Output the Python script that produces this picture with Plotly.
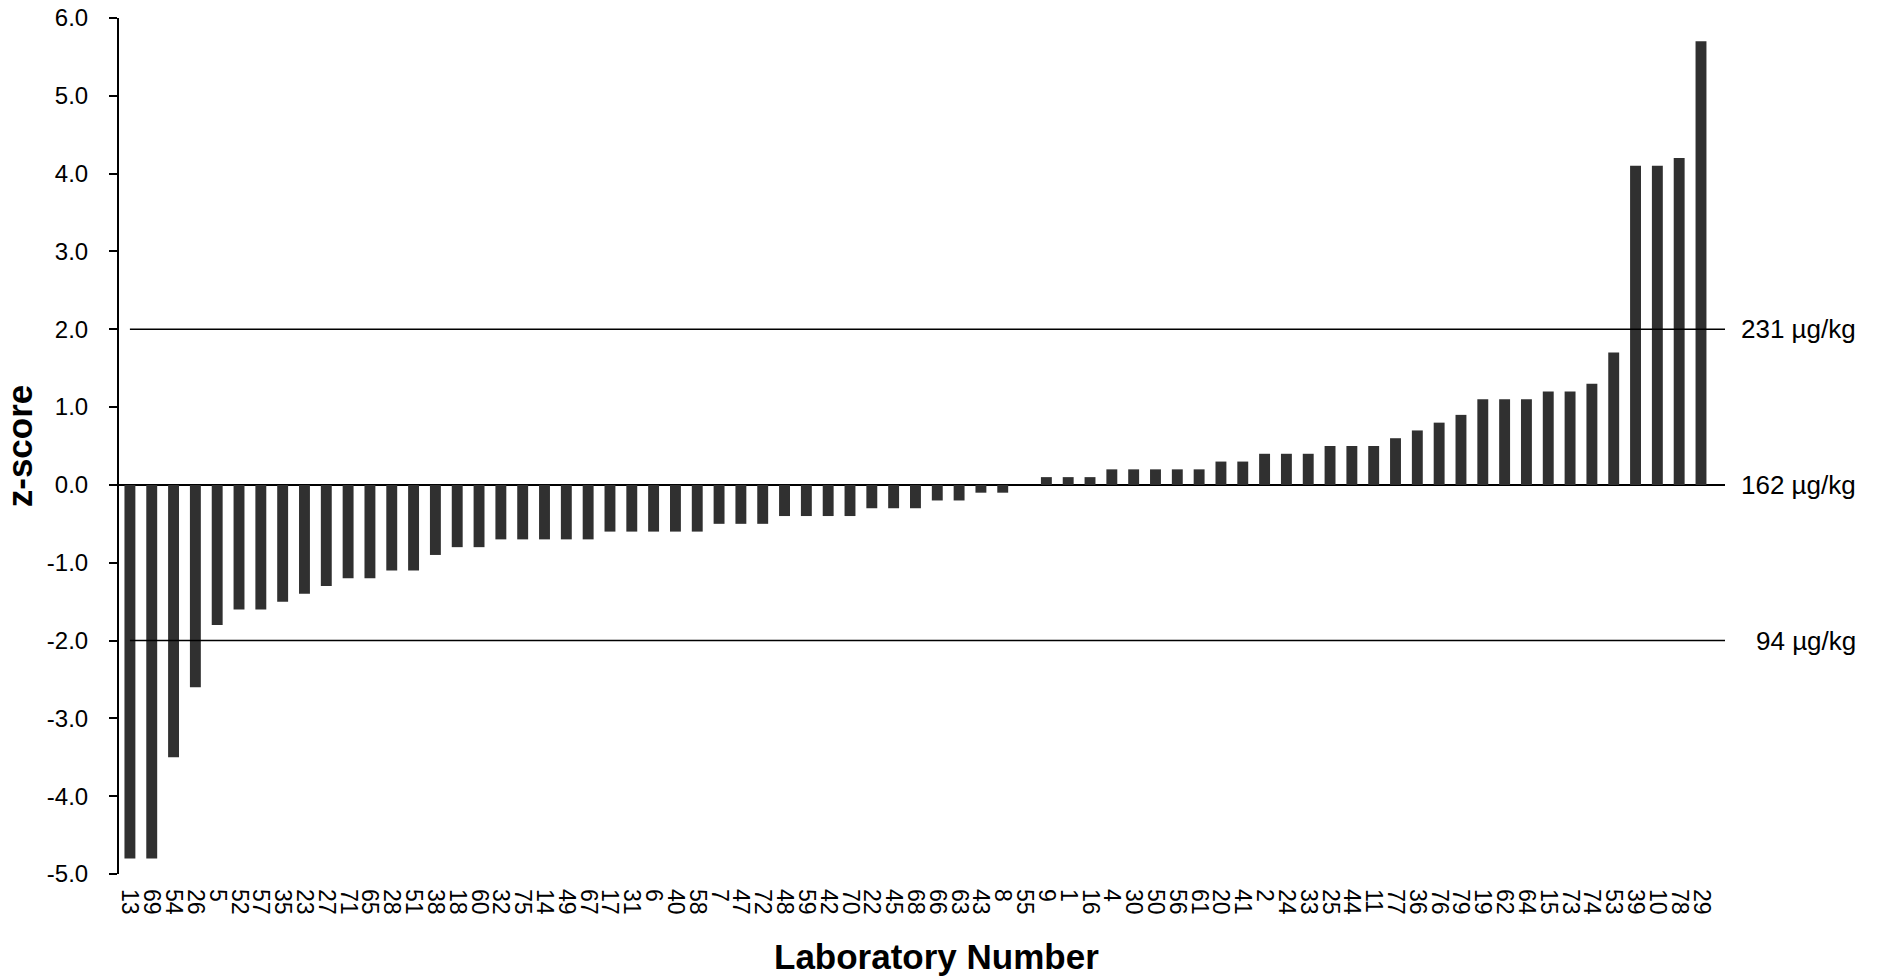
import plotly.graph_objects as go

labs = ["13","69","54","26","5","52","57","35","23","27","71","65","28","51","38","18","60","32","75","14",
        "49","67","17","31","6","40","58","7","47","72","48","59","42","70","22","45","68","66","63","43",
        "8","55","9","1","16","4","30","50","56","61","20","41","2","24","33","25","44","11","77","36",
        "76","79","19","62","64","15","73","74","53","39","10","78","29"]
zscores = [-4.8,-4.8,-3.5,-2.6,-1.8,-1.6,-1.6,-1.5,-1.4,-1.3,-1.2,-1.2,-1.1,-1.1,-0.9,-0.8,-0.8,-0.7,-0.7,-0.7,
           -0.7,-0.7,-0.6,-0.6,-0.6,-0.6,-0.6,-0.5,-0.5,-0.5,-0.4,-0.4,-0.4,-0.4,-0.3,-0.3,-0.3,-0.2,-0.2,-0.1,
           -0.1,0.0,0.1,0.1,0.1,0.2,0.2,0.2,0.2,0.2,0.3,0.3,0.4,0.4,0.4,0.5,0.5,0.5,0.6,0.7,
           0.8,0.9,1.1,1.1,1.1,1.2,1.2,1.3,1.7,4.1,4.1,4.2,5.7]
ytick_vals = [-5, -4, -3, -2, -1, 0, 1, 2, 3, 4, 5, 6]
ytick_text = ["-5.0","-4.0","-3.0","-2.0","-1.0","0.0","1.0","2.0","3.0","4.0","5.0","6.0"]
limit_z = [2, 0, -2]
limit_text = ["231 µg/kg", "162 µg/kg", "94 µg/kg"]

FONT = "Liberation Sans, Arial, sans-serif"
xs = list(range(len(labs)))

fig = go.Figure()
fig.add_trace(go.Bar(x=xs, y=zscores, marker=dict(color="#303030", line=dict(width=0)),
                     width=0.5, showlegend=False))

x_end = len(labs) + 0.1
for z in limit_z:
    if z != 0:
        fig.add_shape(type="line", xref="x", yref="y", x0=0, x1=x_end, y0=z, y1=z,
                      line=dict(color="black", width=1.5))

for z, t in zip(limit_z, limit_text):
    fig.add_annotation(xref="paper", yref="y", x=1.0828, y=z, text=t, showarrow=False,
                       xanchor="right", yanchor="middle",
                       font=dict(family=FONT, size=26, color="black"))

fig.add_annotation(xref="paper", yref="paper", x=0.509, y=-0.0958, text="<b>Laboratory Number</b>",
                   showarrow=False, xanchor="center", yanchor="middle",
                   font=dict(family=FONT, size=35, color="black"))

fig.update_layout(
    width=1881, height=978,
    margin=dict(l=119, r=156, t=18, b=104, autoexpand=False),
    plot_bgcolor="white", paper_bgcolor="white",
    bargap=0.5,
    font=dict(family=FONT, color="black"),
    xaxis=dict(range=[-0.5, x_end], tickmode="array", tickvals=xs, ticktext=labs,
               tickangle=90, tickfont=dict(size=23, family=FONT, color="black"),
               showgrid=False, showline=False, zeroline=False, ticks="",
               ticklabelstandoff=14),
    yaxis=dict(range=[-5, 6], tickmode="array", tickvals=ytick_vals, ticktext=ytick_text,
               tickfont=dict(size=24, family=FONT, color="black"),
               showgrid=False, showline=True, linecolor="black", linewidth=2,
               ticks="outside", ticklen=8, tickwidth=2, tickcolor="black",
               ticklabelstandoff=16,
               zeroline=True, zerolinecolor="black", zerolinewidth=2,
               title=dict(text="<b>z-score</b>", font=dict(size=35, family=FONT), standoff=6)),
)

fig.write_html("out.html")
